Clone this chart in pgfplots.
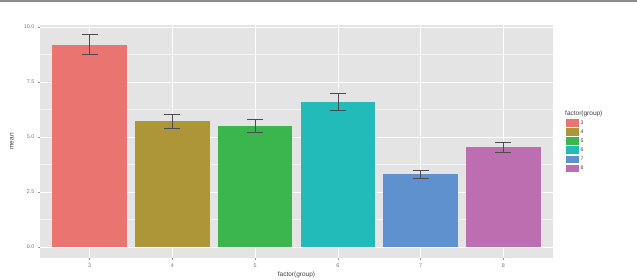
\documentclass[border=0pt]{standalone}
\usepackage{fontspec}
\setmainfont{Liberation Sans}
\usepackage{pgfplots}
\pgfplotsset{compat=1.18}
\definecolor{c3}{HTML}{E97470}
\definecolor{c4}{HTML}{AC9637}
\definecolor{c5}{HTML}{3AB64C}
\definecolor{c6}{HTML}{23BABA}
\definecolor{c7}{HTML}{5E91CD}
\definecolor{c8}{HTML}{BC6EB0}
\definecolor{panel}{HTML}{E4E4E4}
\definecolor{ticktxt}{HTML}{7A7A7A}
\begin{document}
\begin{tikzpicture}[x=1pt,y=1pt]
\path[use as bounding box] (0,0) rectangle (637,280);
\draw[black!45, line width=1.3pt] (0,279) -- (637,279);
\begin{axis}[
  at={(40pt,22pt)}, anchor=south west,
  scale only axis, width=513pt, height=233pt,
  xmin=0.4, xmax=6.6, ymin=-0.5, ymax=10.09,
  axis background/.style={fill=panel},
  axis line style={draw=none},
  xtick={1,2,3,4,5,6}, xticklabels={3,4,5,6,7,8},
  ytick={0,2.5,5,7.5,10}, yticklabels={0.0,2.5,5.0,7.5,10.0},
  minor ytick={1.25,3.75,6.25,8.75},
  grid=both,
  major grid style={draw=white, line width=0.7pt},
  minor grid style={draw=white!60!panel, line width=0.4pt},
  tick align=outside, major tick length=2.5pt, minor tick length=0pt,
  tick style={draw=black!40, line width=0.4pt},
  xtick pos=bottom, ytick pos=left,
  /pgf/number format/assume math mode=true,
  tick label style={font=\fontsize{5.4}{6}\selectfont, text=ticktxt},
  xticklabel style={yshift=0.5pt},
  yticklabel style={xshift=0.5pt},
  xlabel={factor(group)}, ylabel={mean},
  label style={font=\fontsize{6.5}{7}\selectfont, text=black!75},
  xlabel style={at={(axis description cs:0.5,-0.073)}, anchor=center},
  ylabel style={at={(axis description cs:-0.0546,0.5)}, anchor=center},
  legend style={at={(axis description cs:1.0253,0.597)}, anchor=north west,
    draw=none, fill=none, inner sep=0pt, row sep=1pt,
    font=\fontsize{5.2}{5.5}\selectfont, text=black!75,
    nodes={inner sep=1.5pt}},
  legend cell align=left,
  legend image code/.code={\fill[#1,draw=none] (0pt,-3.5pt) rectangle (13pt,4pt);},
]
\addplot[ybar, bar width=0.9, bar shift=0pt, fill=c3, draw=none] coordinates {(1,9.20)};
\addplot[ybar, bar width=0.9, bar shift=0pt, fill=c4, draw=none] coordinates {(2,5.71)};
\addplot[ybar, bar width=0.9, bar shift=0pt, fill=c5, draw=none] coordinates {(3,5.50)};
\addplot[ybar, bar width=0.9, bar shift=0pt, fill=c6, draw=none] coordinates {(4,6.61)};
\addplot[ybar, bar width=0.9, bar shift=0pt, fill=c7, draw=none] coordinates {(5,3.30)};
\addplot[ybar, bar width=0.9, bar shift=0pt, fill=c8, draw=none] coordinates {(6,4.53)};
\legend{3,4,5,6,7,8}
\addplot[forget plot, draw=none, mark=none,
  error bars/.cd, y dir=both, y explicit,
  error bar style={draw=black!70, line width=0.5pt},
  error mark options={rotate=90, draw=black!70, line width=0.5pt, mark size=8pt}]
  coordinates {
  (1,9.20) +- (0,0.45)
  (2,5.71) +- (0,0.32)
  (3,5.50) +- (0,0.30)
  (4,6.61) +- (0,0.39)
  (5,3.30) +- (0,0.19)
  (6,4.53) +- (0,0.24)
  };
\end{axis}
\node[anchor=west, font=\fontsize{6.5}{7}\selectfont, text=black!75, inner sep=0pt] at (565,166) {factor(group)};
\end{tikzpicture}
\end{document}
